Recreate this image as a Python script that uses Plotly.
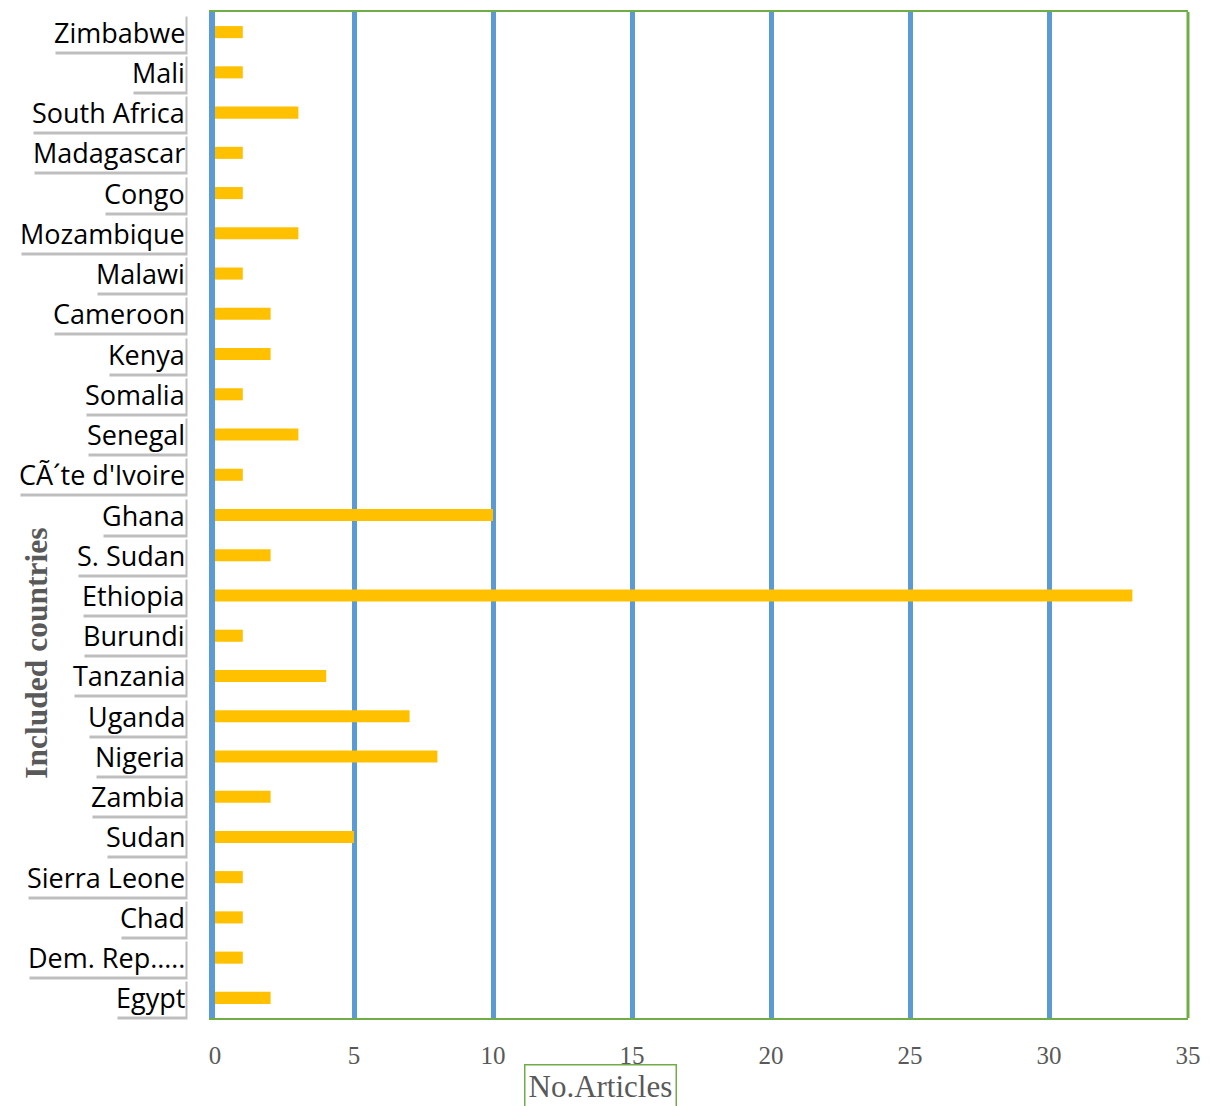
import plotly.graph_objects as go

countries = ["Egypt", "Dem. Rep.\u2026.", "Chad", "Sierra Leone", "Sudan", "Zambia", "Nigeria",
             "Uganda", "Tanzania", "Burundi", "Ethiopia", "S. Sudan", "Ghana",
             "C\u00c3\u00b4te d'Ivoire", "Senegal", "Somalia", "Kenya", "Cameroon", "Malawi",
             "Mozambique", "Congo", "Madagascar", "South Africa", "Mali", "Zimbabwe"]
articles = [2, 1, 1, 1, 5, 2, 8, 7, 4, 1, 33, 2, 10, 1, 3, 1, 2, 2, 1, 3, 1, 1, 3, 1, 1]
x_ticks = [0, 5, 10, 15, 20, 25, 30, 35]
x_title = "No.Articles"
y_title = "Included countries"

BLUE = "#5B9BD5"
GREEN = "#70AD47"
GOLD = "#FFC000"
LABEL_FONT = "Open Sans"

fig = go.Figure()
fig.add_trace(go.Bar(
    x=articles, y=countries, orientation="h",
    marker=dict(color=GOLD, line=dict(width=0)),
    width=0.3, hoverinfo="x+y",
))

annotations = []
for c in countries:
    # drop shadow behind the label box
    annotations.append(dict(
        x=0, xref="paper", y=c, yref="y", text=c, showarrow=False,
        xanchor="right", yanchor="middle", xshift=-27, yshift=-3,
        font=dict(family=LABEL_FONT, size=27, color="rgba(0,0,0,0)"),
        bgcolor="rgba(110,110,110,0.45)", borderpad=0,
    ))
    annotations.append(dict(
        x=0, xref="paper", y=c, yref="y", text=c, showarrow=False,
        xanchor="right", yanchor="middle", xshift=-29, yshift=0,
        font=dict(family=LABEL_FONT, size=27, color="#000000"),
        bgcolor="#FFFFFF", borderpad=0,
    ))

annotations.append(dict(
    x=0.396, xref="paper", y=-0.068, yref="paper", text=x_title, showarrow=False,
    xanchor="center", yanchor="middle",
    font=dict(family="Liberation Serif", size=31, color="#595959"),
    bgcolor="#FFFFFF", bordercolor=GREEN, borderwidth=1.5, borderpad=3,
))
annotations.append(dict(
    x=-0.183, xref="paper", y=0.363, yref="paper", text="<b>" + y_title + "</b>",
    showarrow=False, textangle=-90, xanchor="center", yanchor="middle",
    font=dict(family="Liberation Serif", size=31.5, color="#595959"),
))

fig.update_layout(
    width=1211, height=1106,
    margin=dict(l=215, r=23, t=10, b=88),
    paper_bgcolor="white", plot_bgcolor="white",
    showlegend=False,
    annotations=annotations,
    xaxis=dict(
        range=[0, 35], tickvals=x_ticks, ticktext=[str(v) for v in x_ticks],
        showgrid=True, gridcolor=BLUE, gridwidth=5,
        zeroline=False, showline=True, linecolor=GREEN, linewidth=2, mirror=True,
        ticks="", ticklabelstandoff=14,
        tickfont=dict(family="Liberation Serif", size=25, color="#595959"),
    ),
    yaxis=dict(
        showticklabels=False, showgrid=False, zeroline=False,
        showline=True, linecolor=BLUE, linewidth=6,
        range=[-0.5, len(countries) - 0.5],
    ),
    shapes=[dict(type="line", xref="paper", yref="paper", x0=1, x1=1, y0=0, y1=1,
                 line=dict(color=GREEN, width=3), layer="above")],
)

fig.write_html("out.html")
